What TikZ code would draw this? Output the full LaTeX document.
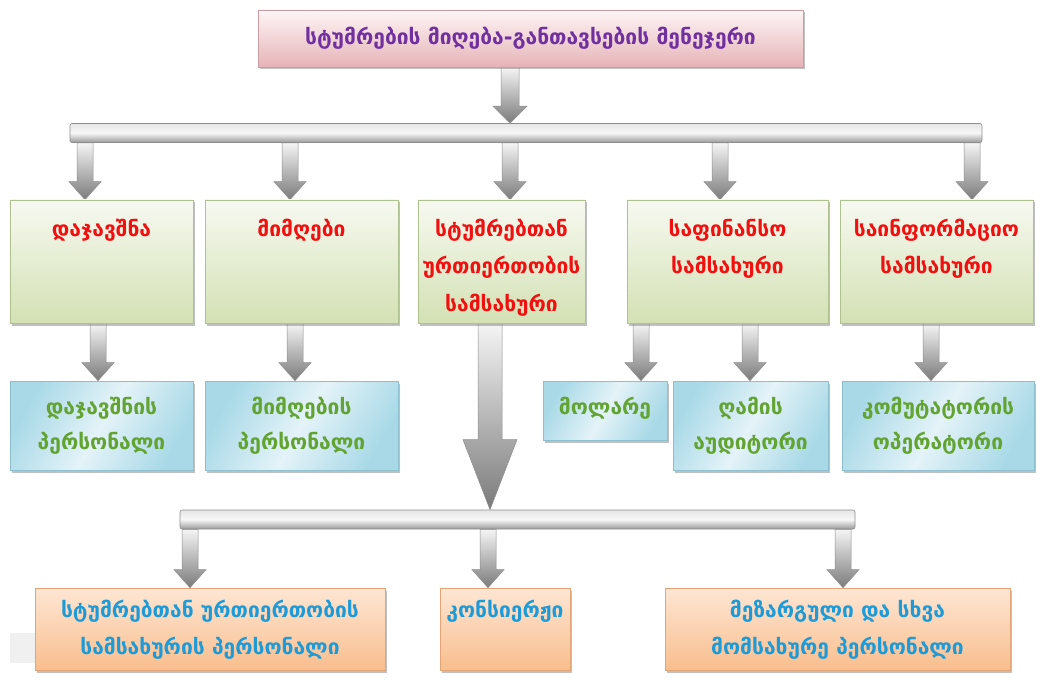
\documentclass[tikz,border=0pt]{standalone}
\usepackage{fontspec}
\newfontfamily\geo{DejaVu Sans}
\usetikzlibrary{calc,shadows}
\pgfdeclarelayer{background}
\pgfsetlayers{background,main}

\definecolor{titlepurple}{HTML}{7030A0}
\definecolor{unitred}{HTML}{F01010}
\definecolor{staffgreen}{HTML}{62A332}
\definecolor{staffblue}{HTML}{1E9AD6}
\definecolor{pinktop}{HTML}{FDF5F6}
\definecolor{pinkbot}{HTML}{E6B3B7}
\definecolor{pinkline}{HTML}{C99EA2}
\definecolor{greentop}{HTML}{F7F9F1}
\definecolor{greenbot}{HTML}{D3E1B4}
\definecolor{greenline}{HTML}{AFC18E}
\definecolor{bluedark}{HTML}{A9D9E7}
\definecolor{bluelight}{HTML}{E4F3F8}
\definecolor{blueline}{HTML}{8DBFCF}
\definecolor{orangetop}{HTML}{FDE6D3}
\definecolor{orangebot}{HTML}{F9BE8E}
\definecolor{orangeline}{HTML}{E3A577}
\definecolor{arrowline}{HTML}{8E8E8E}

\tikzset{
  boxshadow/.style={drop shadow={shadow xshift=2pt, shadow yshift=-2.5pt, opacity=0.45, fill=black!55}},
  topbox/.style={boxshadow, draw=pinkline, line width=0.6pt, top color=pinktop, bottom color=pinkbot, inner sep=0},
  unitbox/.style={boxshadow, draw=greenline, line width=0.6pt, top color=greentop, bottom color=greenbot, inner sep=0},
  staffbox/.style={boxshadow, draw=blueline, line width=0.6pt, left color=bluedark, right color=bluedark, middle color=bluelight, shading angle=60, inner sep=0},
  guestbox/.style={boxshadow, draw=orangeline, line width=0.6pt, top color=orangetop, bottom color=orangebot, inner sep=0},
  bar/.style={draw=arrowline, line width=0.6pt, rounded corners=2pt, top color=white!90!black, bottom color=black!40, middle color=white!97!black, inner sep=0},
  lbl/.style={inner sep=0, align=center, font=\geo\bfseries\fontsize{21}{37.5}\selectfont},
  lblsm/.style={lbl, font=\geo\bfseries\fontsize{21}{35}\selectfont},
  arrowshape/.style={draw=arrowline, line width=0.5pt, top color=white!96!black, bottom color=black!52}
}

% vertical block arrow: #1 start, #2 tip, #3 shaft half width, #4 head half width, #5 head length
\newcommand\blkarrow[5]{%
  \path[arrowshape] let \p1=#1, \p2=#2 in
    (\x2-#3,\y1) -- (\x2+#3,\y1) -- (\x2+#3,\y2+#5) -- (\x2+#4,\y2+#5)
    -- (\x2,\y2) -- (\x2-#4,\y2+#5) -- (\x2-#3,\y2+#5) -- cycle;}

\begin{document}
\begin{tikzpicture}[x=1pt,y=-1pt]
\useasboundingbox (0,0) rectangle (1041,687);
\fill[black!6] (10,633) rectangle (40,663);

% manager
\node[topbox, minimum width=545, minimum height=57] (top) at (530.5,38.5) {};
\node[lbl, text=titlepurple, font=\geo\bfseries\fontsize{21}{24}\selectfont] (toptext) at (top.center) {სტუმრების მიღება-განთავსების მენეჯერი};

% distribution bars
\node[bar, minimum width=912, minimum height=19] (bar1) at (526,133) {};
\node[bar, minimum width=675, minimum height=19] (bar2) at (517.5,519.5) {};

% departments
\node[unitbox, minimum width=183, minimum height=123] (g1) at (101.5,261.5) {};
\node[unitbox, minimum width=193, minimum height=123] (g2) at (301.5,261.5) {};
\node[unitbox, minimum width=167, minimum height=123] (g3) at (501.5,261.5) {};
\node[unitbox, minimum width=201, minimum height=123] (g4) at (727.5,261.5) {};
\node[unitbox, minimum width=193, minimum height=123] (g5) at (936.5,261.5) {};
\node[lbl, text=unitred, anchor=north] (g1t) at ([yshift=-19pt]g1.north) {დაჯავშნა};
\node[lbl, text=unitred, anchor=north] (g2t) at ([yshift=-19pt]g2.north) {მიმღები};
\node[lbl, text=unitred, anchor=north] (g3t) at ([yshift=-19pt]g3.north) {სტუმრებთან\\ურთიერთობის\\სამსახური};
\node[lbl, text=unitred, anchor=north] (g4t) at ([yshift=-19pt]g4.north) {საფინანსო\\სამსახური};
\node[lbl, text=unitred, anchor=north] (g5t) at ([yshift=-19pt]g5.north) {საინფორმაციო\\სამსახური};

% staff of the departments
\node[staffbox, minimum width=183, minimum height=89] (b1) at (101.5,425.5) {};
\node[staffbox, minimum width=193, minimum height=89] (b2) at (301.5,425.5) {};
\node[staffbox, minimum width=124, minimum height=59] (b3) at (605,410.5) {};
\node[staffbox, minimum width=155, minimum height=89] (b4) at (750.5,425.5) {};
\node[staffbox, minimum width=192, minimum height=89] (b5) at (938,425.5) {};
\node[lblsm, text=staffgreen] (b1t) at (b1.center) {დაჯავშნის\\პერსონალი};
\node[lblsm, text=staffgreen] (b2t) at (b2.center) {მიმღების\\პერსონალი};
\node[lblsm, text=staffgreen] (b3t) at ([yshift=2pt]b3.center) {მოლარე};
\node[lblsm, text=staffgreen] (b4t) at (b4.center) {ღამის\\აუდიტორი};
\node[lblsm, text=staffgreen] (b5t) at (b5.center) {კომუტატორის\\ოპერატორი};

% guest relations staff
\node[guestbox, minimum width=350, minimum height=82] (o1) at (210,629) {};
\node[guestbox, minimum width=130, minimum height=82] (o2) at (505,629) {};
\node[guestbox, minimum width=345, minimum height=82] (o3) at (837.5,629) {};
\node[lbl, text=staffblue, anchor=north] (o1t) at ([yshift=-12pt]o1.north) {სტუმრებთან ურთიერთობის\\სამსახურის პერსონალი};
\node[lbl, text=staffblue, anchor=north] (o2t) at ([yshift=-12pt]o2.north) {კონსიერჟი};
\node[lbl, text=staffblue, anchor=north] (o3t) at ([yshift=-12pt]o3.north) {მეზარგული და სხვა\\მომსახურე პერსონალი};

% connectors
\begin{pgfonlayer}{background}
\blkarrow{(510,0 |- top.south)}{(510,0 |- bar1.north)}{9pt}{17pt}{17pt}
\foreach \px/\tgt in {85/g1, 290/g2, 510/g3, 720/g4, 972/g5}
  \blkarrow{(\px,0 |- bar1.south)}{(\px,0 |- \tgt.north)}{8pt}{16pt}{18pt};
\foreach \px/\src/\tgt in {98/g1/b1, 295/g2/b2, 641/g4/b3, 750/g4/b4, 931/g5/b5}
  \blkarrow{(\px,0 |- \src.south)}{(\px,0 |- \tgt.north)}{8pt}{16pt}{18pt};
\blkarrow{(490,0 |- g3.south)}{(490,0 |- bar2.north)}{12pt}{27pt}{70pt}
\foreach \px/\tgt in {190/o1, 488/o2, 843/o3}
  \blkarrow{(\px,0 |- bar2.south)}{(\px,0 |- \tgt.north)}{8pt}{16pt}{18pt};
\end{pgfonlayer}
\end{tikzpicture}
\end{document}
